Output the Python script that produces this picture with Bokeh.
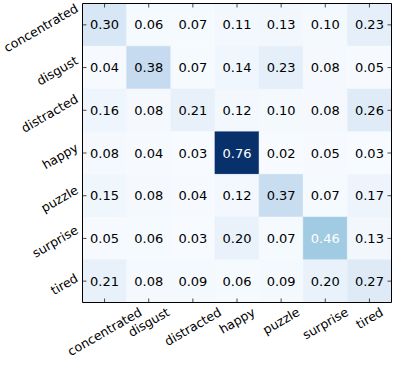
import numpy as np
from bokeh.plotting import figure
from bokeh.models import ColumnDataSource, LinearColorMapper, Range1d
from bokeh.transform import transform
from bokeh.core.properties import value
from bokeh.palettes import Blues256
from bokeh.embed import file_html
from bokeh.resources import INLINE

classes = ["concentrated", "disgust", "distracted", "happy", "puzzle", "surprise", "tired"]
row_concentrated = [0.30, 0.06, 0.07, 0.11, 0.13, 0.10, 0.23]
row_disgust      = [0.04, 0.38, 0.07, 0.14, 0.23, 0.08, 0.05]
row_distracted   = [0.16, 0.08, 0.21, 0.12, 0.10, 0.08, 0.26]
row_happy        = [0.08, 0.04, 0.03, 0.76, 0.02, 0.05, 0.03]
row_puzzle       = [0.15, 0.08, 0.04, 0.12, 0.37, 0.07, 0.17]
row_surprise     = [0.05, 0.06, 0.03, 0.20, 0.07, 0.46, 0.13]
row_tired        = [0.21, 0.08, 0.09, 0.06, 0.09, 0.20, 0.27]
rows = [row_concentrated, row_disgust, row_distracted, row_happy,
        row_puzzle, row_surprise, row_tired]

n = len(classes)
vmax = max(max(r) for r in rows)

xs, ys, vals, txt, tcol = [], [], [], [], []
for i, r in enumerate(rows):
    for j, v in enumerate(r):
        xs.append(j + 0.5)
        ys.append(i + 0.5)
        vals.append(v)
        txt.append(f"{v:.2f}")
        tcol.append("white" if v > vmax / 2 else "black")
src = ColumnDataSource(dict(x=xs, y=ys, v=vals, t=txt, c=tcol))

# Blues colormap (light -> dark) with a gamma-like stretch
blues = list(Blues256)[::-1]
pal = [blues[int(round(((k / 255) ** 2.0) * 255))] for k in range(256)]
mapper = LinearColorMapper(palette=pal, low=0.0, high=vmax)

# layout in pixels: matrix area and margins inside the canvas
FW, FH = 309, 299
LEFT, RIGHT, TOP = 82, 8, 3
H = 359
W = LEFT + FW + RIGHT
BOTTOM = H - TOP - FH
cw, ch = FW / n, FH / n
FONT = "DejaVu Sans"

p = figure(width=W, height=H,
           x_range=Range1d(-LEFT / cw, n + RIGHT / cw),
           y_range=Range1d(n + BOTTOM / ch, -TOP / ch),
           output_backend="svg", toolbar_location=None,
           x_axis_location=None, y_axis_location=None,
           min_border=0)
p.grid.visible = False
p.outline_line_color = None
p.background_fill_color = "white"
p.border_fill_color = "white"

p.rect(x="x", y="y", width=1, height=1, source=src,
       fill_color=transform("v", mapper), line_color=transform("v", mapper), line_width=0.5)
p.text(x="x", y="y", text="t", source=src, text_color="c",
       text_align="center", text_baseline="middle",
       text_font=value(FONT), text_font_size="13px")

# frame around the matrix
p.rect(x=[n / 2], y=[n / 2], width=n, height=n, fill_color=None,
       line_color="black", line_width=1)

# inward ticks on all four sides
TL = 4.0
tk = [k + 0.5 for k in range(n)]
p.segment(x0=tk, y0=[n] * n, x1=tk, y1=[n - TL / ch] * n, line_color="black", line_alpha=0.7)
p.segment(x0=tk, y0=[0] * n, x1=tk, y1=[TL / ch] * n, line_color="black", line_alpha=0.7)
p.segment(x0=[0] * n, y0=tk, x1=[TL / cw] * n, y1=tk, line_color="black", line_alpha=0.7)
p.segment(x0=[n] * n, y0=tk, x1=[n - TL / cw] * n, y1=tk, line_color="black", line_alpha=0.7)

# DejaVu Sans advance widths (units of 1/2048 em) for tick-label layout
adv = {"a": 1255, "c": 1126, "d": 1300, "e": 1260, "g": 1300, "h": 1298, "i": 569,
       "l": 569, "n": 1298, "o": 1253, "p": 1300, "r": 842, "s": 1067, "t": 803,
       "u": 1298, "y": 1212, "z": 1075}
LS = 12.5
LH = 1.164 * LS
PAD = 2.0
YSHIFT = 3.0
ang = np.deg2rad(30)
xl_x, xl_y, yl_x, yl_y = [], [], [], []
for k, name in enumerate(classes):
    w = sum(adv.get(c, 1200) for c in name) / 2048 * LS
    bw = w * np.cos(ang) + LH * np.sin(ang)
    bh = w * np.sin(ang) + LH * np.cos(ang)
    xl_x.append(k + 0.5)
    xl_y.append(n + (PAD + bh / 2) / ch)
    yl_x.append(-(PAD + bw / 2) / cw)
    yl_y.append(k + 0.5 + YSHIFT / ch)

lab = dict(text_align="center", text_baseline="middle", angle=ang,
           text_font=value(FONT), text_font_size=f"{LS}px", text_color="black")
p.text(x=xl_x, y=xl_y, text=classes, **lab)
p.text(x=yl_x, y=yl_y, text=classes, **lab)

open("out.html", "w").write(file_html(p, INLINE))
